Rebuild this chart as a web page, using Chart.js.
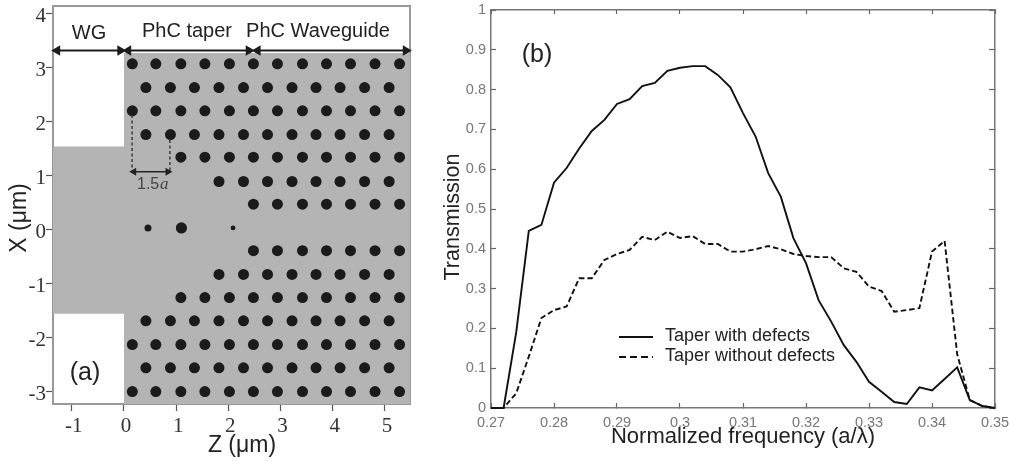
<!DOCTYPE html>
<html><head><meta charset="utf-8">
<style>
html,body{margin:0;padding:0;background:#fff;width:1009px;height:461px;overflow:hidden}
canvas{position:absolute;top:0;filter:blur(0.4px)}
#a{left:0}#b{left:435px}
</style>
<script src="https://cdn.jsdelivr.net/npm/chart.js@4"></script>
</head><body>
<canvas id="a" width="435" height="461"></canvas>
<canvas id="b" width="574" height="461"></canvas>
<script>
// ---- panel (a) values
const zTicks=[-1,0,1,2,3,4,5];
const xTicks=[-3,-2,-1,0,1,2,3,4];
const oddZ=[0.16,0.61,1.09,1.55,2.02,2.48,2.94,3.42,3.88,4.34,4.81,5.28];
const evenZ=[0.42,0.89,1.35,1.82,2.29,2.75,3.22,3.68,4.14,4.61,5.08];
const rowX=[3.06,2.62,2.19,1.75,1.33,0.88,0.46,-0.40,-0.84,-1.27,-1.70,-2.14,-2.57,-3.01];
const rowIsOdd=[1,0,1,0,1,0,1,1,0,1,0,1,0,1];
const rowStartZ=[0,0,0,0,1,1.8,2.4,2.4,1.8,1,0,0,0,0];
const defectZ=[0.46,1.10,2.09];
const defectX=[0.02,0.02,0.02];
const defectSize=[3.5,5.6,2.4];
const regionZ=[-1.36,0,0,5.48,5.48,0,0,-1.36];
const regionX=[1.53,1.53,3.26,3.26,-3.24,-3.24,-1.57,-1.57];
const arrowSpans=[[-1.28,-0.07],[0.08,2.39],[2.56,5.4]];
// ---- panel (b) values
const freq=[0.27,0.272,0.274,0.276,0.278,0.28,0.282,0.284,0.286,0.288,0.29,0.292,0.294,0.296,0.298,0.3,0.302,0.304,0.306,0.308,0.31,0.312,0.314,0.316,0.318,0.32,0.322,0.324,0.326,0.328,0.33,0.332,0.334,0.336,0.338,0.34,0.342,0.344,0.346,0.348,0.35];
const withDefects=[0,0,0.19,0.445,0.46,0.566,0.603,0.652,0.696,0.724,0.764,0.776,0.809,0.817,0.847,0.855,0.859,0.859,0.837,0.806,0.741,0.682,0.59,0.531,0.427,0.364,0.271,0.217,0.158,0.116,0.066,0.041,0.015,0.01,0.052,0.044,0.073,0.102,0.02,0.005,0];
const withoutDefects=[0,0,0.037,0.129,0.226,0.246,0.255,0.326,0.326,0.372,0.387,0.397,0.43,0.422,0.443,0.427,0.432,0.412,0.412,0.393,0.393,0.399,0.407,0.399,0.387,0.382,0.379,0.379,0.351,0.342,0.305,0.294,0.242,0.246,0.251,0.393,0.42,0.135,0.02,0.005,0];
const freqTicks=[0.27,0.28,0.29,0.3,0.31,0.32,0.33,0.34,0.35];
const transTicks=[0,0.1,0.2,0.3,0.4,0.5,0.6,0.7,0.8,0.9,1];

function pts(xs,ys){return xs.map((x,i)=>({x,y:ys[i]}));}
function fixedTicks(vals){return s=>{s.ticks=vals.map(value=>({value}));};}
function textPlugin(items){return {id:'texts',afterDatasetsDraw(c){
  const g=c.ctx;
  items.forEach(t=>{g.save();g.translate(t.x,t.y);if(t.rot)g.rotate(t.rot);
    g.font=t.font;g.fillStyle=t.color||'#222';g.textAlign=t.align||'center';g.textBaseline='middle';
    g.fillText(t.text,0,0);g.restore();});
}};}
function axisCommon(vals,min,max,position,size,extra){
  return Object.assign({type:'linear',position,min,max,afterBuildTicks:fixedTicks(vals),
    afterFit(s){if(s.isHorizontal())s.height=size;else s.width=size;
      s.paddingLeft=s.paddingRight=s.paddingTop=s.paddingBottom=0;}},extra);
}

// ---------- panel (a)
const holes=[];
rowX.forEach((x,i)=>{(rowIsOdd[i]?oddZ:evenZ).filter(z=>z>=rowStartZ[i]).forEach(z=>holes.push({x:z,y:x}));});
const aTick={font:{family:'"Liberation Serif"',size:21},color:'#333',autoSkip:false,maxRotation:0,includeBounds:false};
const arrowSets=arrowSpans.map(sp=>({type:'scatter',showLine:true,data:pts(sp,[3.305,3.305]),borderColor:'#1c1c1c',backgroundColor:'#1c1c1c',borderWidth:2,
  pointStyle:'triangle',pointRotation:[-90,90],pointRadius:4,clip:false}));
new Chart(document.getElementById('a'),{type:'scatter',
 data:{datasets:[
  {showLine:true,data:pts(regionZ,regionX),fill:'shape',backgroundColor:'#b4b4b4',borderWidth:0,pointRadius:0,order:5},
  {data:holes,pointRadius:5.5,backgroundColor:'#1b1b1b',borderWidth:0,order:3},
  {data:pts(defectZ,defectX),pointRadius:defectSize,backgroundColor:'#1b1b1b',borderWidth:0,order:3},
  {showLine:true,data:pts([0.155,0.155],[2.11,1.06]),borderColor:'#333',borderWidth:1.4,borderDash:[3,2.5],pointRadius:0,order:2},
  {showLine:true,data:pts([0.88,0.88],[1.65,1.06]),borderColor:'#333',borderWidth:1.4,borderDash:[3,2.5],pointRadius:0,order:2},
  {showLine:true,data:pts([0.19,0.84],[1.06,1.06]),borderColor:'#222',backgroundColor:'#222',borderWidth:1.6,pointStyle:'triangle',pointRotation:[-90,90],pointRadius:3,order:2},
  ...arrowSets
 ]},
 options:{responsive:false,animation:false,events:[],
  layout:{padding:{left:0,top:6,right:25,bottom:0}},
  plugins:{legend:{display:false},tooltip:{enabled:false}},
  scales:{
   x:axisCommon(zTicks,-1.36,5.48,'bottom',57,{grid:{drawOnChartArea:false,tickLength:7,tickColor:'#555',tickWidth:1.2},border:{color:'#999',width:2},ticks:Object.assign({padding:3,labelOffset:2,callback:v=>String(v)},aTick)}),
   y:axisCommon(xTicks,-3.24,4.13,'left',53,{grid:{drawOnChartArea:false,tickLength:7,tickColor:'#555',tickWidth:1.2},border:{color:'#999',width:2},ticks:Object.assign({padding:0,labelOffset:3,callback:v=>String(v)},aTick)}),
   x2:axisCommon([],-1.36,5.48,'top',0,{grid:{display:true,drawOnChartArea:false,drawTicks:false},border:{color:'#999',width:2},ticks:{display:false}}),
   y2:axisCommon([],-3.24,4.13,'right',0,{grid:{display:true,drawOnChartArea:false,drawTicks:false},border:{color:'#999',width:2},ticks:{display:false}})
  }},
 plugins:[textPlugin([
  {text:'WG',x:89,y:33,font:'20px "Liberation Sans"'},
  {text:'PhC taper',x:187,y:31,font:'20px "Liberation Sans"'},
  {text:'PhC Waveguide',x:318,y:31,font:'20px "Liberation Sans"'},
  {text:'(a)',x:85,y:373,font:'25px "Liberation Sans"'},
  {text:'1.5',x:137,y:185,font:'16px "Liberation Sans"',align:'left',color:'#444'},
  {text:'a',x:160,y:185,font:'italic 17px "Liberation Serif"',align:'left',color:'#444'},
  {text:'X (μm)',x:20,y:218,rot:-Math.PI/2,font:'23px "Liberation Sans"'},
  {text:'Z (μm)',x:242,y:446,font:'23px "Liberation Sans"'}
 ])]
});

// ---------- panel (b)
const bTick={font:{family:'"Liberation Sans"',size:14.5},color:'#777',autoSkip:false,maxRotation:0,includeBounds:false};
const frame={color:'#777',width:1.5};
const bGrid=l=>({drawOnChartArea:false,tickLength:l,tickColor:'#666',tickWidth:1.2});
const bx=[0.27,0.35], by=[0,1];
new Chart(document.getElementById('b'),{type:'scatter',
 data:{datasets:[
  {label:'Taper with defects',showLine:true,data:pts(freq,withDefects),borderColor:'#111',borderWidth:1.9,pointRadius:0,clip:false},
  {label:'Taper without defects',showLine:true,data:pts(freq,withoutDefects),borderColor:'#111',borderWidth:1.9,borderDash:[5.5,3],pointRadius:0,clip:false}
 ]},
 options:{responsive:false,animation:false,events:[],
  layout:{padding:{left:0,top:10,right:14,bottom:0}},
  plugins:{legend:{display:false},tooltip:{enabled:false}},
  scales:{
   x:axisCommon(freqTicks,bx[0],bx[1],'bottom',53,{grid:bGrid(-5),border:frame,ticks:Object.assign({padding:11,callback:v=>String(v)},bTick)}),
   y:axisCommon(transTicks,by[0],by[1],'left',56,{grid:bGrid(-5),border:frame,ticks:Object.assign({padding:10,callback:v=>String(v)},bTick)}),
   x2:axisCommon(freqTicks,bx[0],bx[1],'top',0,{grid:bGrid(-4),border:frame,ticks:{display:false}}),
   y2:axisCommon(transTicks,by[0],by[1],'right',0,{grid:bGrid(-6),border:frame,ticks:{display:false}})
  }},
 plugins:[textPlugin([
  {text:'(b)',x:102,y:55,font:'25px "Liberation Sans"'},
  {text:'Taper with defects',x:230,y:336,font:'18px "Liberation Sans"',align:'left'},
  {text:'Taper without defects',x:230,y:356,font:'18px "Liberation Sans"',align:'left'},
  {text:'Transmission',x:18,y:217,rot:-Math.PI/2,font:'21.5px "Liberation Sans"'},
  {text:'Normalized frequency (a/λ)',x:308,y:437,font:'22px "Liberation Sans"'}
 ]),{id:'legendLines',afterDatasetsDraw(c){
  const g=c.ctx;g.save();g.strokeStyle='#111';g.lineWidth=2;
  [[337,[]],[357,[7,4]]].forEach(([y,d])=>{g.setLineDash(d);g.beginPath();g.moveTo(184,y);g.lineTo(218,y);g.stroke();});
  g.restore();
 }}]
});
</script>
</body></html>
